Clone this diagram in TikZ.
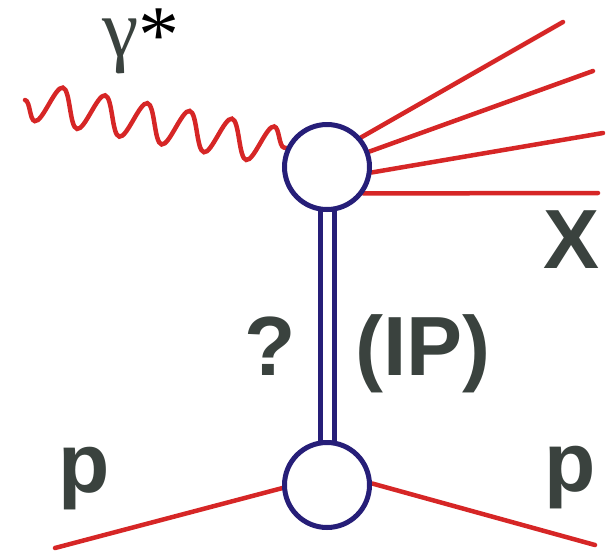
\documentclass[tikz,border=0pt]{standalone}
\usepackage{fontspec}
\setmainfont{Liberation Sans}
\newfontfamily\serifgreek{Liberation Serif}
\usetikzlibrary{backgrounds,decorations.pathmorphing}
\definecolor{pred}{RGB}{214,38,38}
\definecolor{pnavy}{RGB}{38,30,120}
\definecolor{ptext}{RGB}{58,66,62}
\tikzset{
  blob/.style={circle, draw=pnavy, line width=5pt, fill=white, minimum size=85pt, inner sep=0pt},
  particle/.style={draw=pred, line width=4.5pt, line cap=round},
  pomeron/.style={draw=pnavy, line width=5pt, double=white, double distance=9pt},
  lab/.style={text=ptext, inner sep=0pt, anchor=base, font=\bfseries\fontsize{84}{90}\selectfont}
}
\begin{document}
\begin{tikzpicture}[x=1pt,y=-1pt]
\useasboundingbox (0,0) rectangle (608,552);
\node[blob] (top) at (327,167) {};
\node[blob] (bot) at (327,485) {};
\coordinate (e1) at (563,22);
\coordinate (e2) at (593,71);
\coordinate (e3) at (603,133);
\coordinate (e4) at (598,193);
\coordinate (g0) at (25,100);
\coordinate (pl) at (55,548);
\coordinate (pr) at (595,545);
\begin{pgfonlayer}{background}
  \draw[particle] (top.41) -- (e1);
  \draw[particle] (top.20) -- (e2);
  \draw[particle] (top.-7) -- (e3);
  \draw[particle] (top.-36) -- (e4);
  \draw[particle, decorate, decoration={snake, segment length=43pt, amplitude=-19pt, post length=2pt}] (g0) -- (top.155);
  \draw[pomeron] (top.center) -- (bot.center);
  \draw[particle] (pl) -- (bot.184);
  \draw[particle] (bot.2.5) -- (pr);
\end{pgfonlayer}
\node[lab] (X) at (572,268) {X};
\node[lab] (q) at (270,375) {?};
\node[lab] (IP) at (423,375) {(IP)};
\node[lab] (p1) at (84,492) {p};
\node[lab] (p2) at (570,491) {p};
\node[inner sep=0pt, anchor=base, font=\serifgreek\fontsize{82}{90}\selectfont] (gam) at (141,56) {\textcolor{ptext}{γ}\raisebox{-6pt}{*}};
\end{tikzpicture}
\end{document}
